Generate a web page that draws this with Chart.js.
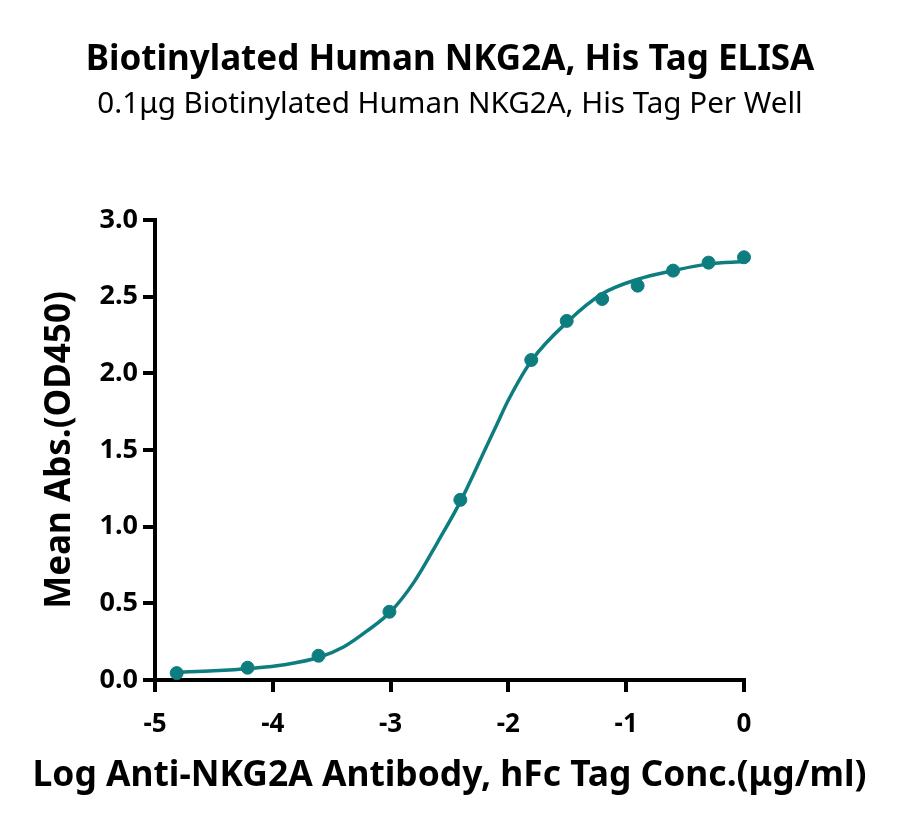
<!DOCTYPE html>
<html>
<head>
<meta charset="utf-8">
<script src="https://cdn.jsdelivr.net/npm/chart.js@4.4.1/dist/chart.umd.min.js"></script>
<style>
  html, body { margin: 0; padding: 0; background: #fff; }
  #wrap { width: 900px; height: 833px; position: relative; }
</style>
</head>
<body>
<div id="wrap"><canvas id="elisa"></canvas></div>
<script>
// measured points: log10 concentration (ug/ml) vs mean OD450
const doseLog = [-4.816, -4.214, -3.612, -3.010, -2.408, -1.806, -1.505, -1.204, -0.903, -0.602, -0.301, 0];
const meanOD  = [0.045, 0.080, 0.158, 0.445, 1.175, 2.087, 2.342, 2.485, 2.572, 2.670, 2.722, 2.757];

// fitted curve
const curveX = [-4.82, -4.5, -4.2, -3.9, -3.6, -3.4, -3.2, -3.0, -2.8, -2.6, -2.4, -2.2, -2.1, -2.0, -1.8, -1.5, -1.2, -0.9, -0.6, -0.3, 0];
const curveY = [0.050, 0.060, 0.075, 0.100, 0.150, 0.215, 0.320, 0.445, 0.640, 0.900, 1.175, 1.500, 1.663, 1.826, 2.087, 2.335, 2.520, 2.614, 2.670, 2.714, 2.729];

const xTicks = [-5, -4, -3, -2, -1, 0];
const yTicks = [0, 0.5, 1.0, 1.5, 2.0, 2.5, 3.0];

const X_TITLE = "Log Anti-NKG2A Antibody, hFc Tag Conc.(μg/ml)";
const TEAL = "#0e7d80";
const FONT = "'Noto Sans', 'Open Sans', sans-serif";

const axisCommon = {
    border: { display: true, color: "#000", width: 4 },
    grid: { display: true, drawOnChartArea: false, drawTicks: true, tickLength: 12, lineWidth: 4, color: "#000" }
};

// the x title is wider than the plot, so Chart.js would squeeze it; draw it ourselves
const wideXTitle = {
    id: "wideXTitle",
    afterDraw(chart) {
        const s = chart.scales.x, ctx = chart.ctx;
        ctx.save();
        ctx.font = `bold 35.4px ${FONT}`;
        ctx.fillStyle = "#000";
        ctx.textAlign = "center";
        ctx.textBaseline = "middle";
        ctx.fillText(X_TITLE, (s.left + s.right) / 2, s.bottom - 57);
        ctx.restore();
    }
};

new Chart(document.getElementById("elisa"), {
    type: "scatter",
    data: {
        datasets: [
            {
                label: "fit",
                type: "line",
                data: curveX.map((x, i) => ({ x, y: curveY[i] })),
                borderColor: TEAL,
                borderWidth: 3.5,
                pointRadius: 0,
                cubicInterpolationMode: "monotone",
                fill: false,
                clip: false
            },
            {
                label: "Mean OD450",
                data: doseLog.map((x, i) => ({ x, y: meanOD[i] })),
                backgroundColor: TEAL,
                borderColor: TEAL,
                pointRadius: 6.5,
                showLine: false,
                clip: false
            }
        ]
    },
    plugins: [wideXTitle],
    options: {
        responsive: true,
        maintainAspectRatio: false,
        devicePixelRatio: 1,
        animation: false,
        layout: { padding: 0 },
        plugins: {
            legend: { display: false },
            tooltip: { enabled: false },
            title: {
                display: true,
                text: "Biotinylated Human NKG2A, His Tag ELISA",
                color: "#000",
                font: { family: FONT, size: 35, weight: "bold", lineHeight: 1.2 },
                padding: { top: 39, bottom: 6 }
            },
            subtitle: {
                display: true,
                text: "0.1μg Biotinylated Human NKG2A, His Tag Per Well",
                color: "#000",
                font: { family: FONT, size: 29.6, weight: "normal", lineHeight: 1.2 },
                padding: { top: 0, bottom: 97.5 }
            }
        },
        scales: {
            x: {
                type: "linear",
                position: "bottom",
                min: -5, max: 0,
                afterBuildTicks: s => { s.ticks = xTicks.map(v => ({ value: v })); },
                afterFit: s => { s.height = 153; },
                ticks: {
                    color: "#000", padding: 17.4,
                    font: { family: FONT, size: 26, weight: "bold" },
                    callback: v => String(v)
                },
                title: { display: false },
                ...axisCommon
            },
            y: {
                type: "linear",
                position: "left",
                min: 0, max: 3,
                afterBuildTicks: s => { s.ticks = yTicks.map(v => ({ value: v })); },
                afterFit: s => { s.width = 155; },
                ticks: {
                    color: "#000", padding: 5,
                    font: { family: FONT, size: 27, weight: "bold" },
                    callback: v => Number(v).toFixed(1)
                },
                title: {
                    display: true,
                    text: "Mean Abs.(OD450)",
                    color: "#000",
                    font: { family: FONT, size: 35, weight: "bold", lineHeight: 1.2 },
                    padding: { top: 39.5, bottom: 0 }
                },
                ...axisCommon
            },
            // empty right-hand gutter so the plot ends where the reference's does
            gutter: {
                type: "linear",
                position: "right",
                display: true,
                min: 0, max: 1,
                afterFit: s => { s.width = 156; },
                border: { display: false },
                grid: { display: false },
                ticks: { display: false }
            }
        }
    }
});
</script>
</body>
</html>
